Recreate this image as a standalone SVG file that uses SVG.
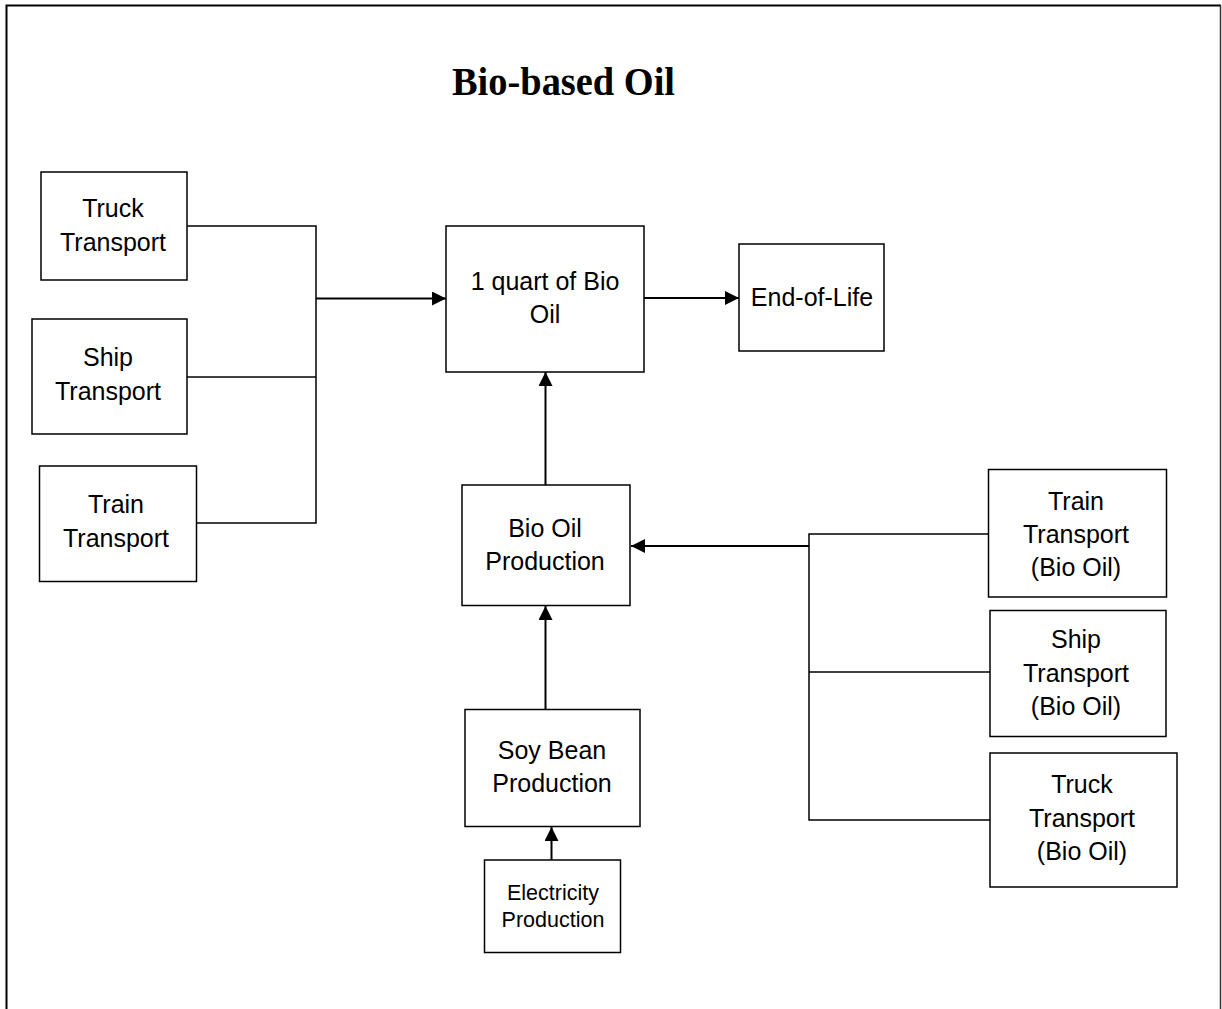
<svg xmlns="http://www.w3.org/2000/svg" width="1222" height="1009" viewBox="0 0 1222 1009">
<defs>
<marker id="arr" viewBox="0 0 14 14" refX="14" refY="7" markerWidth="14" markerHeight="14" markerUnits="userSpaceOnUse" orient="auto">
<path d="M0,0 L14,7 L0,14 Z" fill="#000"/>
</marker>
</defs>
<style>
.box{fill:#fff;stroke:#000;stroke-width:1.5}
.lbl{font-family:"Liberation Sans",Arial,sans-serif;font-size:25px;text-anchor:middle;fill:#000}
.sm{font-size:21.5px}
.ln{fill:none;stroke:#000;stroke-width:1.5}
.la{fill:none;stroke:#000;stroke-width:2;marker-end:url(#arr)}
.title{font-family:"Liberation Serif","Times New Roman",serif;font-weight:bold;font-size:39px;fill:#000}
</style>
<rect x="0" y="0" width="1222" height="1009" fill="#fff"/>
<path d="M6.5,1009 V5.5 H1221" fill="none" stroke="#000" stroke-width="2"/>
<path d="M1220.5,5.5 V1009" fill="none" stroke="#333" stroke-width="1.5"/>
<text class="title" x="452" y="95" textLength="223" lengthAdjust="spacingAndGlyphs">Bio-based Oil</text>
<g id="connectors">
<path class="ln" d="M187,226 H316 V523 H197"/>
<path class="ln" d="M187,377 H316"/>
<path class="la" d="M316,298.5 H446"/>
<path class="la" d="M644,298 H739"/>
<path class="la" d="M545.5,485 V372"/>
<path class="la" d="M545.5,709 V606"/>
<path class="la" d="M551.5,860 V827"/>
<path class="ln" d="M988,534 H809 V820 H990"/>
<path class="ln" d="M809,672 H990"/>
<path class="la" d="M809,546 H631"/>
</g>
<g id="truck-transport">
<rect class="box" x="41" y="172" width="146" height="108"/>
<text class="lbl" x="113" y="217">Truck</text>
<text class="lbl" x="113" y="251">Transport</text>
</g>
<g id="ship-transport">
<rect class="box" x="32" y="319" width="155" height="115"/>
<text class="lbl" x="108" y="366">Ship</text>
<text class="lbl" x="108" y="400">Transport</text>
</g>
<g id="train-transport">
<rect class="box" x="39.5" y="466" width="157" height="115.5"/>
<text class="lbl" x="116" y="513">Train</text>
<text class="lbl" x="116" y="547">Transport</text>
</g>
<g id="quart-bio-oil">
<rect class="box" x="446" y="226" width="198" height="146"/>
<text class="lbl" x="545" y="290">1 quart of Bio</text>
<text class="lbl" x="545" y="323">Oil</text>
</g>
<g id="end-of-life">
<rect class="box" x="739" y="244" width="145" height="107"/>
<text class="lbl" x="812" y="306">End-of-Life</text>
</g>
<g id="bio-oil-production">
<rect class="box" x="462" y="485" width="168" height="120.5"/>
<text class="lbl" x="545" y="537">Bio Oil</text>
<text class="lbl" x="545" y="569.5">Production</text>
</g>
<g id="soy-bean-production">
<rect class="box" x="465" y="709.5" width="175" height="117"/>
<text class="lbl" x="552" y="759">Soy Bean</text>
<text class="lbl" x="552" y="792">Production</text>
</g>
<g id="electricity-production">
<rect class="box" x="484.5" y="860" width="136" height="92.5"/>
<text class="lbl sm" x="553" y="900">Electricity</text>
<text class="lbl sm" x="553" y="927">Production</text>
</g>
<g id="train-transport-bio-oil">
<rect class="box" x="988.5" y="469.5" width="178" height="127.5"/>
<text class="lbl" x="1076" y="510">Train</text>
<text class="lbl" x="1076" y="543">Transport</text>
<text class="lbl" x="1076" y="576">(Bio Oil)</text>
</g>
<g id="ship-transport-bio-oil">
<rect class="box" x="990" y="610.5" width="176" height="126"/>
<text class="lbl" x="1076" y="648">Ship</text>
<text class="lbl" x="1076" y="682">Transport</text>
<text class="lbl" x="1076" y="715">(Bio Oil)</text>
</g>
<g id="truck-transport-bio-oil">
<rect class="box" x="990" y="753" width="187" height="134"/>
<text class="lbl" x="1082" y="793">Truck</text>
<text class="lbl" x="1082" y="827">Transport</text>
<text class="lbl" x="1082" y="860">(Bio Oil)</text>
</g>
</svg>
